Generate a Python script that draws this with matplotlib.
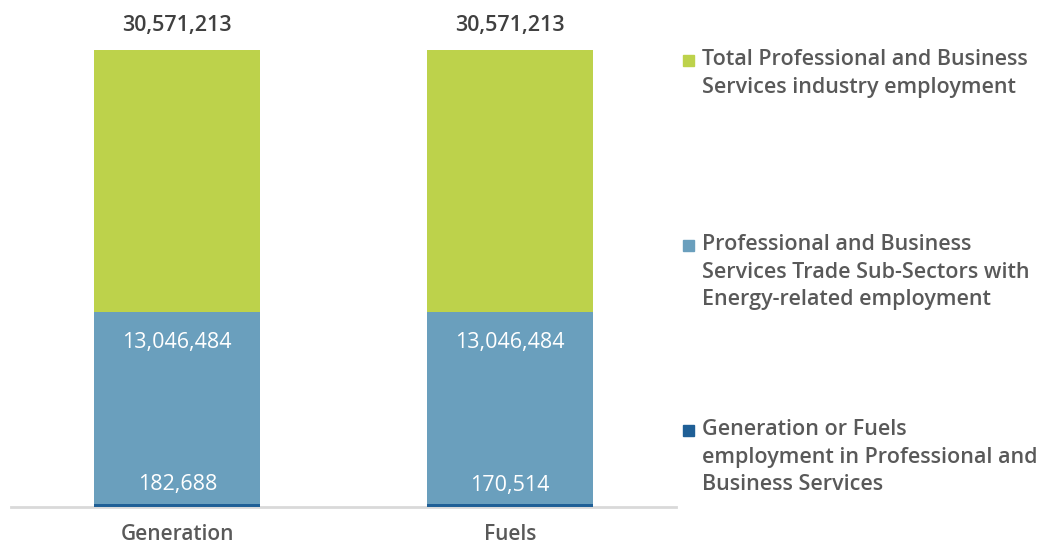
import matplotlib.pyplot as plt
from matplotlib.patches import Rectangle

categories = ["Generation", "Fuels"]
total_pbs = [30571213, 30571213]
trade_subsectors = [13046484, 13046484]
energy_employment = [182688, 170514]

legend_labels = [
    "Total Professional and Business\nServices industry employment",
    "Professional and Business\nServices Trade Sub-Sectors with\nEnergy-related employment",
    "Generation or Fuels\nemployment in Professional and\nBusiness Services",
]

GREEN = "#bdd24b"
BLUE = "#6a9fbd"
NAVY = "#1f5f96"
TEXT_GREY = "#595959"
DARK = "#404040"

plt.rcParams["font.family"] = ["Open Sans", "DejaVu Sans"]

fig = plt.figure(figsize=(10.44, 5.48), dpi=100)
ax = fig.add_axes([11 / 1044, 41 / 548, 665 / 1044, 457 / 548])

x = list(range(len(categories)))
# series overlap from zero, largest drawn first
ax.bar(x, total_pbs, width=0.5, color=GREEN, zorder=1)
ax.bar(x, trade_subsectors, width=0.5, color=BLUE, zorder=2)
ax.bar(x, energy_employment, width=0.5, color=NAVY, zorder=3)

ax.set_xlim(-0.5, len(categories) - 0.5)
ax.set_ylim(0, max(total_pbs))

for xi, tot, trade, energy in zip(x, total_pbs, trade_subsectors, energy_employment):
    ax.annotate(f"{tot:,}", (xi, tot), xytext=(0, 18), textcoords="offset points",
                ha="center", va="center", fontsize=15.5, fontweight="semibold",
                color=DARK, annotation_clip=False)
    ax.annotate(f"{trade:,}", (xi, trade), xytext=(0, -22), textcoords="offset points",
                ha="center", va="center", fontsize=15.5, color="white")
    ax.annotate(f"{energy:,}", (xi, energy), xytext=(0, 14), textcoords="offset points",
                ha="center", va="center", fontsize=15.5, color="white")

ax.set_xticks(x)
ax.set_xticklabels(categories, fontsize=15, fontweight="semibold", color=TEXT_GREY)
ax.tick_params(axis="x", length=0, pad=12)
ax.set_yticks([])
for side in ["left", "right", "top"]:
    ax.spines[side].set_visible(False)
ax.spines["bottom"].set_color("#d9d9d9")
ax.spines["bottom"].set_linewidth(2)
ax.spines["bottom"].set_zorder(0)

# legend, placed by hand to keep the wide vertical spacing
legend_colors = [GREEN, BLUE, NAVY]
legend_tops = [49, 234, 419]
for label, color, top in zip(legend_labels, legend_colors, legend_tops):
    fy = 1 - (top + 11) / 548
    fig.patches.append(Rectangle((683 / 1044, fy - 5.5 / 548), 11 / 1044, 11 / 548,
                                 transform=fig.transFigure, color=color))
    fig.text(702 / 1044, 1 - top / 548, label, ha="left", va="top",
             fontsize=15.5, fontweight="semibold", color=TEXT_GREY, linespacing=1.42)

fig.savefig("out.png", dpi=100)
